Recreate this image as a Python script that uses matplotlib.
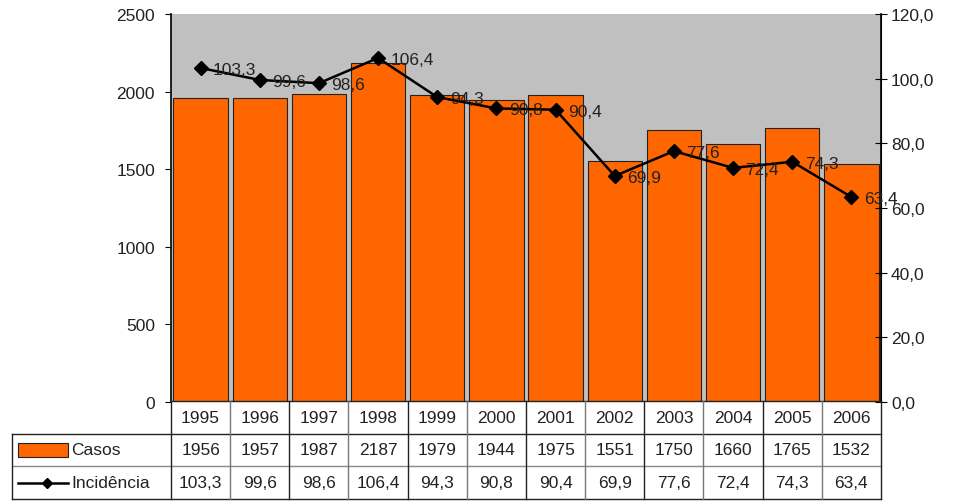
import matplotlib
matplotlib.use("Agg")
import matplotlib.pyplot as plt
from matplotlib.patches import Rectangle
from matplotlib.lines import Line2D

plt.rcParams['font.family'] = ['Liberation Sans', 'DejaVu Sans']

years = ["1995", "1996", "1997", "1998", "1999", "2000", "2001",
         "2002", "2003", "2004", "2005", "2006"]
casos = [1956, 1957, 1987, 2187, 1979, 1944, 1975, 1551, 1750, 1660, 1765, 1532]
incidencia = [103.3, 99.6, 98.6, 106.4, 94.3, 90.8, 90.4, 69.9, 77.6, 72.4, 74.3, 63.4]

left_ticks = [0, 500, 1000, 1500, 2000, 2500]
right_ticks = [0, 20, 40, 60, 80, 100, 120]

BAR = "#FF6600"
BG = "#C0C0C0"
FS = 12.5

def fmt(v):
    return f"{v:.1f}".replace(".", ",")

W, H = 954, 502
fig = plt.figure(figsize=(W / 100, H / 100), dpi=100)

x0, x1 = 171, 881
y_top, y_bot = 15, 403
ax = fig.add_axes([x0 / W, 1 - y_bot / H, (x1 - x0) / W, (y_bot - y_top) / H])
ax.set_facecolor(BG)
xs = list(range(len(years)))
ax.bar(xs, casos, width=0.92, color=BAR, edgecolor="#222222", linewidth=0.8, zorder=2)
ax.set_xlim(-0.5, len(years) - 0.5)
ax.set_ylim(0, 2500)
ax.set_yticks(left_ticks)
ax.set_yticklabels([str(t) for t in left_ticks], fontsize=FS, color="#222222")
ax.set_xticks([])
ax.tick_params(axis="y", direction="out", length=4.5, width=0.8, pad=7)
for s in ["top", "bottom"]:
    ax.spines[s].set_visible(False)
ax.spines["left"].set_linewidth(1.2)

ax2 = ax.twinx()
ax2.set_ylim(0, 120)
ax2.set_yticks(right_ticks)
ax2.set_yticklabels([fmt(t) for t in right_ticks], fontsize=FS, color="#222222")
ax2.tick_params(axis="y", direction="inout", length=8.5, width=0.8, pad=3)
for s in ["top", "bottom", "left"]:
    ax2.spines[s].set_visible(False)
ax2.spines["right"].set_linewidth(1.2)
ax2.plot(xs, incidencia, color="black", linewidth=1.8, marker="D",
         markersize=7.5, zorder=3)
for xi, v in zip(xs, incidencia):
    ax2.annotate(fmt(v), (xi, v), xytext=(9, -1), textcoords="offset points",
                 ha="left", va="center", fontsize=FS, color="#222222")

# data table beneath the plot
tl = 12
tax = fig.add_axes([tl / W, 2 / H, (x1 - tl) / W, 98 / H])
col_w = (x1 - x0) / len(years)
xleft = -0.5 - (x0 - tl) / col_w
tax.set_xlim(xleft, len(years) - 0.5)
tax.set_ylim(0, 3)
tax.axis("off")

lc = "#222222"
lw = 1.0
# horizontal rules
tax.plot([-0.5, len(years) - 0.5], [3, 3], color=lc, lw=lw, clip_on=False)
tax.plot([xleft, len(years) - 0.5], [2, 2], color=lc, lw=lw, clip_on=False)
tax.plot([xleft, len(years) - 0.5], [1, 1], color="#888888", lw=lw, clip_on=False)
tax.plot([xleft, len(years) - 0.5], [0, 0], color=lc, lw=lw, clip_on=False)
# vertical rules
tax.plot([xleft, xleft], [0, 2], color=lc, lw=lw, clip_on=False)
for i in range(len(years) + 1):
    c = lc if i % 2 == 0 or i == len(years) else "#777777"
    tax.plot([i - 0.5, i - 0.5], [0, 3], color=c, lw=lw, clip_on=False)

for i, (yr, c, v) in enumerate(zip(years, casos, incidencia)):
    tax.text(i, 2.5, yr, ha="center", va="center", fontsize=FS, color="#222222")
    tax.text(i, 1.5, str(c), ha="center", va="center", fontsize=FS, color="#222222")
    tax.text(i, 0.5, fmt(v), ha="center", va="center", fontsize=FS, color="#222222")

# legend keys
key_x0 = xleft + 0.1
tax.add_patch(Rectangle((key_x0, 1.3), 0.85, 0.4, facecolor=BAR,
                        edgecolor="#222222", lw=0.8, clip_on=False))
tax.text(key_x0 + 0.9, 1.5, "Casos", ha="left", va="center", fontsize=FS,
         color="#222222")
tax.add_line(Line2D([key_x0, key_x0 + 0.85], [0.5, 0.5], color="black", lw=1.8,
                    clip_on=False))
tax.add_line(Line2D([key_x0 + 0.5], [0.5], marker="D", markersize=5.5,
                    color="black", clip_on=False))
tax.text(key_x0 + 0.9, 0.5, "Incidência", ha="left", va="center", fontsize=FS,
         color="#222222")

fig.savefig("out.png", dpi=100)
